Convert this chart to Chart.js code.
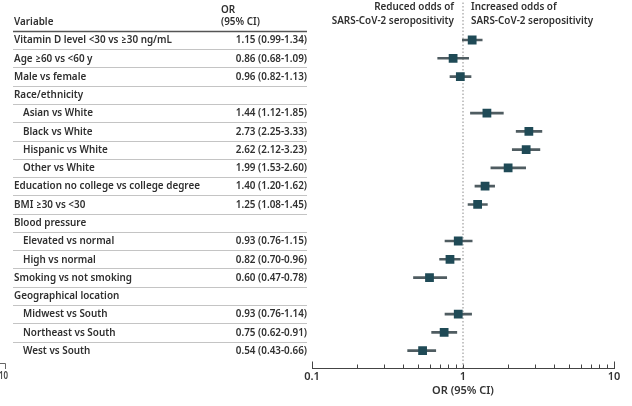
<!DOCTYPE html>
<html>
<head>
<meta charset="utf-8">
<script src="https://cdn.jsdelivr.net/npm/chart.js@4.4.0/dist/chart.umd.min.js"></script>
<style>
  html, body { margin: 0; padding: 0; background: #fff; }
  #wrap { width: 632px; height: 406px; position: relative; }
</style>
</head>
<body>
<div id="wrap"><canvas id="forest"></canvas></div>
<script>
// rows of the forest plot, top to bottom
const variables = [
    'Vitamin D level <30 vs ≥30 ng/mL', 'Age ≥60 vs <60 y', 'Male vs female',
    'Race/ethnicity', 'Asian vs White', 'Black vs White', 'Hispanic vs White', 'Other vs White',
    'Education no college vs college degree', 'BMI ≥30 vs <30',
    'Blood pressure', 'Elevated vs normal', 'High vs normal',
    'Smoking vs not smoking',
    'Geographical location', 'Midwest vs South', 'Northeast vs South', 'West vs South',
];
const indented = [0, 0, 0, 0, 1, 1, 1, 1, 0, 0, 0, 1, 1, 0, 0, 1, 1, 1];
const oddsRatio = [1.15, 0.86, 0.96, null, 1.44, 2.73, 2.62, 1.99, 1.40, 1.25, null, 0.93, 0.82, 0.60, null, 0.93, 0.75, 0.54];
const ciLow = [0.99, 0.68, 0.82, null, 1.12, 2.25, 2.12, 1.53, 1.20, 1.08, null, 0.76, 0.70, 0.47, null, 0.76, 0.62, 0.43];
const ciHigh = [1.34, 1.09, 1.13, null, 1.85, 3.33, 3.23, 2.60, 1.62, 1.45, null, 1.15, 0.96, 0.78, null, 1.14, 0.91, 0.66];
const xTicks = [0.1, 0.2, 0.3, 0.4, 0.5, 0.6, 0.7, 0.8, 0.9, 1, 2, 3, 4, 5, 6, 7, 8, 9, 10];
const xTickLabels = ['0.1', '1', '10'];

const TEXT = '#2f2f2f';
const FONT = '"Noto Sans", Lato, sans-serif';
const LABEL_FONT = `600 11.5px ${FONT}`;

const fmt = (v) => v.toFixed(2);
let squeeze = 1;

function squeezed(ctx, text, x, y) {
    const w = ctx.measureText(text).width;
    ctx.fillText(text, x, y, w * squeeze);
}

const tablePlugin = {
    id: 'forestTable',
    afterDraw(chart) {
        const ctx = chart.ctx;
        const y = chart.scales.y;
        const x = chart.scales.x;
        ctx.save();
        ctx.fillStyle = TEXT;
        ctx.textBaseline = 'middle';
        ctx.font = LABEL_FONT;
        // the source face is condensed: the longest label is about 185px wide
        squeeze = 186 / ctx.measureText(variables[8]).width;

        // column headers
        ctx.textAlign = 'left';
        squeezed(ctx, 'Variable', 14, 22);
        squeezed(ctx, 'OR', 221, 10);
        squeezed(ctx, '(95% CI)', 221, 22);

        // plot headers either side of OR = 1
        ctx.textAlign = 'right';
        squeezed(ctx, 'Reduced odds of', 454, 7);
        squeezed(ctx, 'SARS-CoV-2 seropositivity', 454, 21);
        ctx.textAlign = 'left';
        squeezed(ctx, 'Increased odds of', 471, 7);
        squeezed(ctx, 'SARS-CoV-2 seropositivity', 471, 21);

        // header rule
        const hy = Math.round(y.getPixelForValue(-0.5)) + 0.5;
        ctx.strokeStyle = '#555';
        ctx.lineWidth = 1.5;
        ctx.beginPath();
        ctx.moveTo(13, hy);
        ctx.lineTo(307, hy);
        ctx.stroke();

        variables.forEach((name, i) => {
            const py = y.getPixelForValue(i);
            ctx.textAlign = 'left';
            squeezed(ctx, name, indented[i] ? 23 : 14, py);
            if (oddsRatio[i] != null) {
                ctx.textAlign = 'right';
                squeezed(ctx, `${fmt(oddsRatio[i])} (${fmt(ciLow[i])}-${fmt(ciHigh[i])})`, 307, py);
            }
            if (i < variables.length - 1) {
                const ly = Math.round(y.getPixelForValue(i + 0.5)) + 0.5;
                ctx.strokeStyle = '#c4c4c4';
                ctx.lineWidth = 1;
                ctx.beginPath();
                ctx.moveTo(13, ly);
                ctx.lineTo(307, ly);
                ctx.stroke();
            }
        });

        // tick marks point up from the axis line
        const base = Math.round(x.top) + 0.5;
        ctx.strokeStyle = '#444';
        ctx.lineWidth = 1;
        x.ticks.forEach((t) => {
            const px = Math.round(x.getPixelForValue(t.value)) + 0.5;
            const len = (t.value === 0.1 || t.value === 10) ? 7 : 4;
            ctx.beginPath();
            ctx.moveTo(px, base);
            ctx.lineTo(px, base - len);
            ctx.stroke();
        });

        // clipped remnant of a neighbouring panel at the left edge
        ctx.strokeStyle = '#666';
        ctx.beginPath();
        ctx.moveTo(0, 363.5);
        ctx.lineTo(5.5, 363.5);
        ctx.lineTo(5.5, 369);
        ctx.stroke();
        ctx.fillStyle = '#444';
        ctx.textAlign = 'left';
        ctx.font = `600 10px ${FONT}`;
        ctx.fillText('10', -1, 376, 9);
        ctx.restore();
    },
};

const ctx = document.getElementById('forest');
new Chart(ctx, {
    type: 'bar',
    data: {
        datasets: [
            {
                type: 'line',
                data: [{ x: 1, y: -2.05 }, { x: 1, y: 17.95 }],
                borderColor: '#8a8a8a',
                borderWidth: 1,
                borderDash: [1.5, 2],
                pointRadius: 0,
                clip: false,
                order: 3,
            },
            {
                type: 'bar',
                data: variables.map((v, i) => (ciLow[i] == null ? null : { y: i, x: [ciLow[i], ciHigh[i]] })).filter(Boolean),
                backgroundColor: '#4f5c61',
                barThickness: 2,
                order: 2,
            },
            {
                type: 'scatter',
                data: variables.map((v, i) => (oddsRatio[i] == null ? null : { x: oddsRatio[i], y: i })).filter(Boolean),
                pointStyle: 'rect',
                pointRadius: 6.2,
                backgroundColor: '#1f4a56',
                borderColor: '#1f4a56',
                borderWidth: 0,
                order: 1,
            },
        ],
    },
    options: {
        indexAxis: 'y',
        responsive: true,
        maintainAspectRatio: false,
        animation: false,
        events: [],
        layout: { padding: { left: 312, right: 18, top: 0, bottom: 10 } },
        plugins: { legend: { display: false }, tooltip: { enabled: false } },
        scales: {
            x: {
                type: 'logarithmic',
                position: 'bottom',
                min: 0.1,
                max: 10,
                afterBuildTicks: (scale) => { scale.ticks = xTicks.map((v) => ({ value: v })); },
                grid: { display: false, drawTicks: false },
                border: { display: true, color: '#444', width: 1 },
                ticks: {
                    autoSkip: false,
                    maxRotation: 0,
                    padding: 3,
                    color: '#333',
                    font: { family: FONT, size: 11, weight: '600', lineHeight: 1 },
                    callback: (value) => {
                        const s = String(Number(value));
                        return xTickLabels.includes(s) ? s : '';
                    },
                },
                title: {
                    display: true,
                    text: 'OR (95% CI)',
                    color: '#333',
                    padding: { top: 0, bottom: 0 },
                    font: { family: FONT, size: 11, weight: '600', lineHeight: 1 },
                },
            },
            y: {
                type: 'linear',
                position: 'left',
                reverse: true,
                offset: false,
                min: -1.85,
                max: 17.95,
                display: false,
            },
        },
    },
    plugins: [tablePlugin],
});
</script>
</body>
</html>
